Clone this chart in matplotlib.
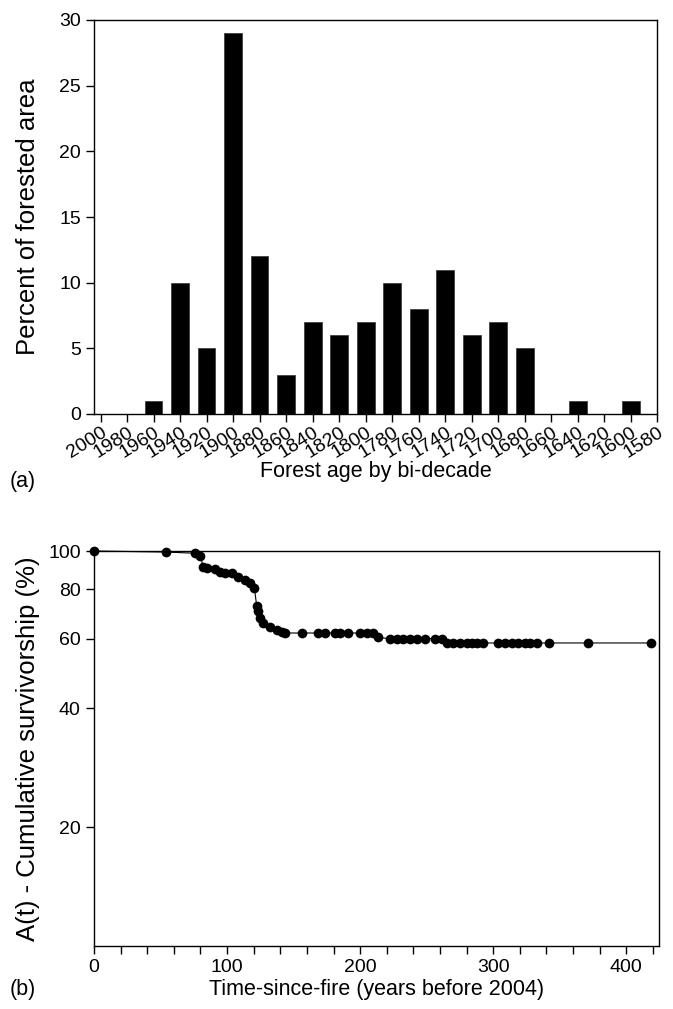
import numpy as np
import matplotlib
matplotlib.use("Agg")
import matplotlib.pyplot as plt
from matplotlib.ticker import FixedLocator, NullLocator

FONT = ["Liberation Sans", "DejaVu Sans"]
LABEL_SIZE = 15.5   # horizontal axis labels
TICK_SIZE = 14
AGE_SIZE = 14       # rotated bi-decade labels
V_SIZE = 18.5       # vertical labels (reference looks stretched vertically)

plt.rcParams.update({
    "font.family": FONT,
    "font.size": TICK_SIZE,
    "axes.linewidth": 1.0,
    "xtick.major.width": 1.0,
    "ytick.major.width": 1.0,
    "xtick.major.size": 6,
    "ytick.major.size": 6,
})

# (a) forest age distribution, by bi-decade
bidecades = [2000, 1980, 1960, 1940, 1920, 1900, 1880, 1860, 1840, 1820, 1800,
             1780, 1760, 1740, 1720, 1700, 1680, 1660, 1640, 1620, 1600]
percent_area = [0, 0, 1, 10, 5, 29, 12, 3, 7, 6, 7,
                10, 8, 11, 6, 7, 5, 0, 1, 0, 1]
age_ticks = list(range(2000, 1579, -20))

# (b) cumulative survivorship vs time since fire
time_since_fire = [0, 53.9, 75.9, 79.7, 82.2, 85.0, 90.9, 94.7, 98.5, 103.5,
                   108.5, 113.5, 117.3, 120.5, 122.3, 123.5, 124.8, 127.2,
                   132.3, 137.3, 141.1, 143.6, 156.1, 168.6, 173.6, 181.1,
                   184.9, 191.1, 199.9, 205.0, 209.9, 213.7, 222.5, 227.5,
                   232.5, 237.5, 242.5, 248.8, 256.3, 261.3, 265.0, 270.0,
                   275.0, 280.0, 284.0, 288.0, 292.6, 303.9, 308.9, 313.9,
                   318.9, 323.9, 327.7, 333.2, 342.2, 371.0, 418.6]
survivorship = [100, 99.4, 98.7, 97.1, 91.3, 90.8, 89.9, 88.7, 87.9, 87.9,
                86.1, 84.5, 82.9, 80.8, 72.4, 70.3, 67.7, 65.7,
                64.2, 63.2, 62.2, 62.0, 62.0, 62.0, 62.0, 62.0,
                62.0, 62.0, 62.0, 62.0, 62.0, 60.4, 60.0, 60.0,
                60.0, 60.0, 60.0, 60.0, 60.0, 60.0, 58.5, 58.5,
                58.5, 58.5, 58.5, 58.5, 58.5, 58.5, 58.5, 58.5,
                58.5, 58.5, 58.5, 58.5, 58.5, 58.5, 58.5]

W, H = 673, 1009
fig = plt.figure(figsize=(W / 100, H / 100), dpi=100)

# ---- panel (a)
ax1 = fig.add_axes([94 / W, 1 - 414 / H, (657.3 - 94) / W, 394 / H])
ax1.bar(bidecades, percent_area, width=13.3, color="black", edgecolor="#333333",
        linewidth=0.5)
ax1.set_xlim(2005, 1580)
ax1.set_ylim(0, 30)
ax1.set_yticks(range(0, 31, 5))
ax1.set_xticks(age_ticks)
ax1.set_xticklabels([str(a) for a in age_ticks], rotation=32, ha="right",
                    va="top", rotation_mode="anchor", fontsize=AGE_SIZE)
ax1.tick_params(direction="out", top=False, right=False)
ax1.tick_params(axis="x", pad=1)
ax1.set_ylabel("Percent of forested area", fontsize=V_SIZE)
ax1.yaxis.set_label_coords((28 - 94) / (657.3 - 94), 0.5)
ax1.yaxis.label.set_va("center")
ax1.set_xlabel("Forest age by bi-decade", fontsize=LABEL_SIZE)
ax1.xaxis.set_label_coords(0.5, (414 - 471) / 394)
ax1.xaxis.label.set_va("center")

# ---- panel (b)
ax2 = fig.add_axes([94 / W, 1 - 946 / H, (659 - 94) / W, 395 / H])
ax2.plot(time_since_fire, survivorship, color="black", linewidth=0.8,
         marker="o", markersize=7, markeredgewidth=0, clip_on=False)
ax2.set_yscale("log")
ax2.set_ylim(10, 100)
ax2.set_xlim(0, 424.6)
ax2.yaxis.set_major_locator(FixedLocator([20, 40, 60, 80, 100]))
ax2.yaxis.set_minor_locator(NullLocator())
ax2.set_yticklabels(["20", "40", "60", "80", "100"])
xt = list(range(0, 421, 20))
ax2.set_xticks(xt)
ax2.set_xticklabels([str(t) if t % 100 == 0 else "" for t in xt])
ax2.tick_params(direction="out", top=False, right=False)
ax2.set_ylabel("A(t) - Cumulative survivorship (%)", fontsize=V_SIZE)
ax2.yaxis.set_label_coords((28 - 94) / (659 - 94), 0.5)
ax2.yaxis.label.set_va("center")
ax2.set_xlabel("Time-since-fire (years before 2004)", fontsize=LABEL_SIZE)
ax2.xaxis.set_label_coords(0.5, (946 - 990) / 395)
ax2.xaxis.label.set_va("center")

fig.text(10 / W, 1 - 482 / H, "(a)", fontsize=LABEL_SIZE, va="center", ha="left")
fig.text(10 / W, 1 - 990 / H, "(b)", fontsize=LABEL_SIZE, va="center", ha="left")

fig.savefig("out.png", dpi=100)
